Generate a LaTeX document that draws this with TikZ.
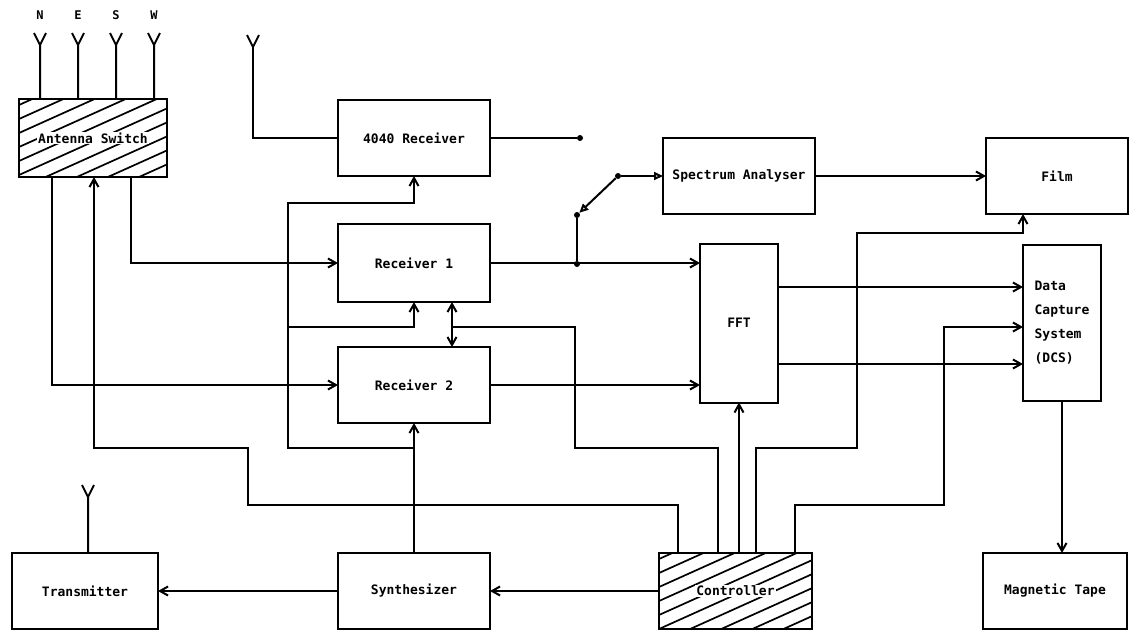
\documentclass[tikz,border=0pt]{standalone}
\usepackage{fontspec}
\newfontfamily\plotfont{DejaVu Sans Mono}
\usetikzlibrary{arrows.meta,positioning,calc}
\setlength{\fboxsep}{1pt}

\begin{document}
\begin{tikzpicture}[x=1pt,y=-1pt,
  >={Straight Barb[length=8pt,width=9pt]},
  blk/.style={draw,line width=2pt,minimum width=152pt,minimum height=76pt,inner sep=2pt,outer sep=0pt,font=\plotfont\bfseries\fontsize{13}{16}\selectfont},
  hatched/.style={blk,path picture={
      \foreach \k in {0,...,11}
        \draw[line width=1.7pt] ([yshift={-(\k*14pt+6pt)}]path picture bounding box.north west) -- ++(260pt,117pt);}},
  wire/.style={line width=2pt},
  arrow/.style={wire,->},
  dblarrow/.style={wire,<->},
  swarrow/.style={wire,-{Triangle[open,length=9pt,width=8pt]}},
  dot/.style={circle,fill,inner sep=0pt,minimum size=6pt},
  dir/.style={font=\plotfont\bfseries\fontsize{12}{14}\selectfont}
]
  \useasboundingbox (0,0) rectangle (1133,633);

  % blocks
  \node[hatched,minimum width=148pt,minimum height=78pt] (sw) at (93,138) {\colorbox{white}{Antenna Switch}};
  \node[blk] (r4040) at (414,138) {4040 Receiver};
  \node[blk,minimum height=78pt,below=48pt of r4040] (rx1) {Receiver 1};
  \node[blk,below=45pt of rx1] (rx2) {Receiver 2};
  \node[blk,below=130pt of rx2] (synth) {Synthesizer};
  \node[blk,minimum width=146pt,left=180pt of synth] (tx) {Transmitter};
  \node[hatched,minimum width=153pt,right=169pt of synth] (ctrl) {\colorbox{white}{Controller}};
  \node[blk,minimum width=144pt,right=171pt of ctrl] (tape) {Magnetic Tape};
  \node[blk] (sa) at (739,176) {Spectrum Analyser};
  \node[blk,minimum width=142pt,right=171pt of sa] (film) {Film};
  \node[blk,minimum width=78pt,minimum height=159pt] (fft) at (739,323) {FFT};
  \node[blk,minimum width=78pt,minimum height=156pt,align=left,
        font=\plotfont\bfseries\fontsize{13}{24}\selectfont] (dcs) at (1062,323) {Data\\Capture\\System\\(DCS)};

  % aerials
  \foreach \x/\l in {40/N,78/E,116/S,154/W} {
    \node[dir] (lbl\l) at (\x,15) {\l};
    \draw[wire] (\x,0 |- sw.north) -- (\x,45) -- ++(-6,-12) (\x,45) -- ++(6,-12);
  }
  \draw[wire] (253,47) -- ++(-6,-12) (253,47) -- ++(6,-12);
  \draw[wire] (253,47) |- (r4040.west);
  \draw[wire] (88,0 |- tx.north) -- (88,497) -- ++(-6,-12) (88,497) -- ++(6,-12);

  % switch contacts
  \node[dot] (k1) at (580,138) {};
  \node[dot] (k2) at (577,215) {};
  \node[dot] (pivot) at (618,176) {};
  \node[dot] (jn) at (577,264) {};
  \draw[wire] (r4040.east) -- (k1);
  \draw[swarrow] (pivot) -- (k2);
  \draw[swarrow] (pivot) -- (sa.west);
  \draw[wire] (k2) -- (jn);

  % signal path
  \draw[arrow] ([xshift=38pt]sw.south) |- (rx1.west);
  \draw[arrow] ([xshift=-41pt]sw.south) |- (rx2.west);
  \draw[arrow] (rx1.east) -- (fft.west |- rx1.east);
  \draw[arrow] (rx2.east) -- (fft.west |- rx2.east);
  \draw[arrow] (sa.east) -- (film.west |- sa.east);
  \draw[arrow] (fft.east |- 0,287) -- (dcs.west |- 0,287);
  \draw[arrow] (fft.east |- 0,364) -- (dcs.west |- 0,364);
  \draw[arrow] (dcs.south) -- (dcs.south |- tape.north);

  % local oscillator
  \draw[arrow] (synth.north) -- (synth.north |- rx2.south);
  \draw[arrow] (414,448) -| (288,203) -| (r4040.south);
  \draw[arrow] (288,327) -| (rx1.south);
  \draw[dblarrow] ([xshift=38pt]rx1.south) -- ([xshift=38pt]rx2.north);
  \draw[arrow] (synth.west) -- (tx.east);

  % control lines
  \draw[arrow] (ctrl.west) -- (synth.east);
  \draw[arrow] (ctrl.north -| 678,0) |- (248,505) |- (94,448) -- (sw.south -| 94,0);
  \draw[wire] (ctrl.north -| 718,0) |- (575,448) |- (452,327);
  \draw[arrow] (fft.south |- ctrl.north) -- (fft.south);
  \draw[arrow] (ctrl.north -| 756,0) |- (857,448) |- (1023,233) -- (film.south -| 1023,0);
  \draw[arrow] (ctrl.north -| 795,0) |- (944,505) |- (dcs.west |- 0,327);
\end{tikzpicture}
\end{document}
